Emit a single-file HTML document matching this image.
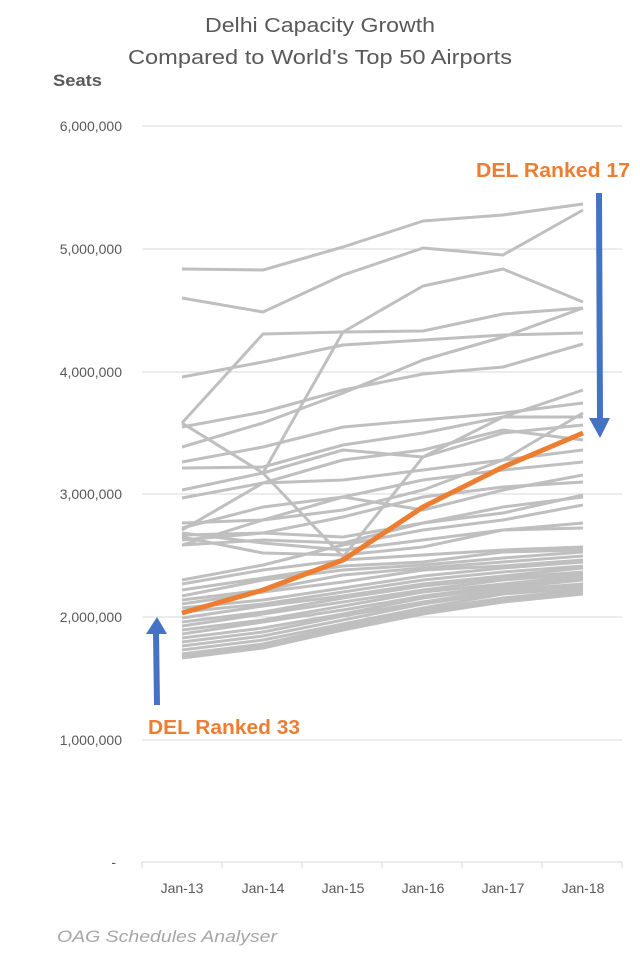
<!DOCTYPE html>
<html><head><meta charset="utf-8"><style>
body{margin:0;background:#fff;}
svg{display:block;font-family:"Liberation Sans",sans-serif;}
</style></head><body>
<svg width="640" height="963" viewBox="0 0 640 963">
<text x="205" y="32" font-size="20" fill="#595959" textLength="230" lengthAdjust="spacingAndGlyphs">Delhi Capacity Growth</text>
<text x="128" y="64" font-size="20" fill="#595959" textLength="384" lengthAdjust="spacingAndGlyphs">Compared to World's Top 50 Airports</text>
<text x="53" y="86" font-size="17" font-weight="bold" fill="#595959" textLength="49" lengthAdjust="spacingAndGlyphs">Seats</text>
<g stroke="#d9d9d9" stroke-width="1">
<line x1="142" y1="126" x2="622" y2="126"/><line x1="142" y1="249" x2="622" y2="249"/>
<line x1="142" y1="372" x2="622" y2="372"/><line x1="142" y1="494" x2="622" y2="494"/>
<line x1="142" y1="617" x2="622" y2="617"/><line x1="142" y1="740" x2="622" y2="740"/>
<line x1="142" y1="862" x2="622" y2="862"/>
<line x1="142" y1="862" x2="142" y2="868"/><line x1="222" y1="862" x2="222" y2="868"/><line x1="302" y1="862" x2="302" y2="868"/><line x1="382" y1="862" x2="382" y2="868"/><line x1="462" y1="862" x2="462" y2="868"/><line x1="542" y1="862" x2="542" y2="868"/><line x1="622" y1="862" x2="622" y2="868"/>
</g>
<g font-size="14" fill="#595959" text-anchor="end">
<text x="122" y="131">6,000,000</text><text x="122" y="254">5,000,000</text><text x="122" y="377">4,000,000</text><text x="122" y="499">3,000,000</text><text x="122" y="622">2,000,000</text><text x="122" y="745">1,000,000</text><text x="116" y="867">-</text>
</g>
<g font-size="14" fill="#595959" text-anchor="middle">
<text x="182" y="893">Jan-13</text><text x="263" y="893">Jan-14</text><text x="343" y="893">Jan-15</text><text x="423" y="893">Jan-16</text><text x="503" y="893">Jan-17</text><text x="583" y="893">Jan-18</text>
</g>
<g fill="none" stroke="#bfbfbf" stroke-width="3" stroke-linejoin="round">
<polyline points="182,269 263,270 343,247 423,221 503,215 583,204"/>
<polyline points="182,298 263,312 343,275 423,248 503,255 583,210"/>
<polyline points="182,423 263,334 343,332 423,331 503,314 583,308"/>
<polyline points="182,423 263,473 343,557 423,457 503,417 583,390"/>
<polyline points="182,377 263,362 343,345 423,340 503,335 583,333"/>
<polyline points="263,473 343,332 423,286 503,269 583,302"/>
<polyline points="182,427 263,412 343,390 423,374 503,367 583,344"/>
<polyline points="182,447 263,423 343,393 423,360 503,337 583,308"/>
<polyline points="182,462 263,447 343,427 423,420 503,413 583,403"/>
<polyline points="182,468 263,467 343,445 423,433 503,417 583,417"/>
<polyline points="182,490 263,473 343,450 423,457 503,433 583,425"/>
<polyline points="182,498 263,483 343,480 423,470 503,460 583,450"/>
<polyline points="182,523 263,520 343,497 423,480 503,470 583,462"/>
<polyline points="182,528 263,507 343,497 423,510 503,490 583,475"/>
<polyline points="182,535 263,533 343,517 423,497 503,487 583,482"/>
<polyline points="182,545 263,540 343,543 423,523 503,513 583,495"/>
<polyline points="182,545 263,520 343,510 423,490 503,460 583,413"/>
<polyline points="182,530 263,483 343,460 423,450 503,430 583,440"/>
<polyline points="182,537 263,553 343,555 423,547 503,530 583,523"/>
<polyline points="182,533 263,543 343,550 423,540 503,530 583,528"/>
<polyline points="182,540 263,533 343,537 423,523 503,507 583,497"/>
<polyline points="182,580 263,565 343,545 423,530 503,520 583,505"/>
<polyline points="182,584 263,570 343,560 423,555 503,550 583,547"/>
<polyline points="182,590 263,578 343,566 423,562 503,552 583,550"/>
<polyline points="182,596 263,580 343,570 423,565 503,558 583,552"/>
<polyline points="182,600 263,590 343,575 423,568 503,562 583,556"/>
<polyline points="182,604 263,592 343,582 423,570 503,566 583,560"/>
<polyline points="182,608 263,600 343,588 423,576 503,568 583,562"/>
<polyline points="182,612 263,604 343,592 423,580 503,572 583,566"/>
<polyline points="182,618 263,606 343,596 423,584 503,576 583,568"/>
<polyline points="182,622 263,612 343,598 423,586 503,578 583,572"/>
<polyline points="182,626 263,614 343,602 423,590 503,580 583,574"/>
<polyline points="182,630 263,620 343,606 423,592 503,584 583,576"/>
<polyline points="182,634 263,622 343,610 423,596 503,586 583,578"/>
<polyline points="182,638 263,628 343,614 423,598 503,588 583,580"/>
<polyline points="182,642 263,632 343,616 423,602 503,590 583,584"/>
<polyline points="182,646 263,636 343,620 423,604 503,592 583,586"/>
<polyline points="182,650 263,640 343,624 423,608 503,594 583,588"/>
<polyline points="182,654 263,644 343,626 423,610 503,598 583,590"/>
<polyline points="182,656 263,646 343,628 423,612 503,600 583,592"/>
<polyline points="182,658 263,648 343,630 423,614 503,602 583,594"/>
</g>
<polyline points="182,613 263,590 343,560 423,507 503,467 583,433" fill="none" stroke="#ed7d31" stroke-width="5" stroke-linejoin="round"/>
<text x="476" y="177" font-size="20" font-weight="bold" fill="#ed7d31" textLength="154" lengthAdjust="spacingAndGlyphs">DEL Ranked 17</text>
<text x="148" y="734" font-size="20" font-weight="bold" fill="#ed7d31" textLength="152" lengthAdjust="spacingAndGlyphs">DEL Ranked 33</text>
<line x1="599" y1="193" x2="600" y2="420" stroke="#4472c4" stroke-width="6"/>
<polygon points="589,418 610,418 600,438" fill="#4472c4"/>
<line x1="157" y1="705" x2="156" y2="632" stroke="#4472c4" stroke-width="6"/>
<polygon points="146,634 167,634 157,617" fill="#4472c4"/>
<text x="57" y="942" font-size="17" font-style="italic" fill="#a6a6a6" textLength="220" lengthAdjust="spacingAndGlyphs">OAG Schedules Analyser</text>
</svg>
</body></html>
